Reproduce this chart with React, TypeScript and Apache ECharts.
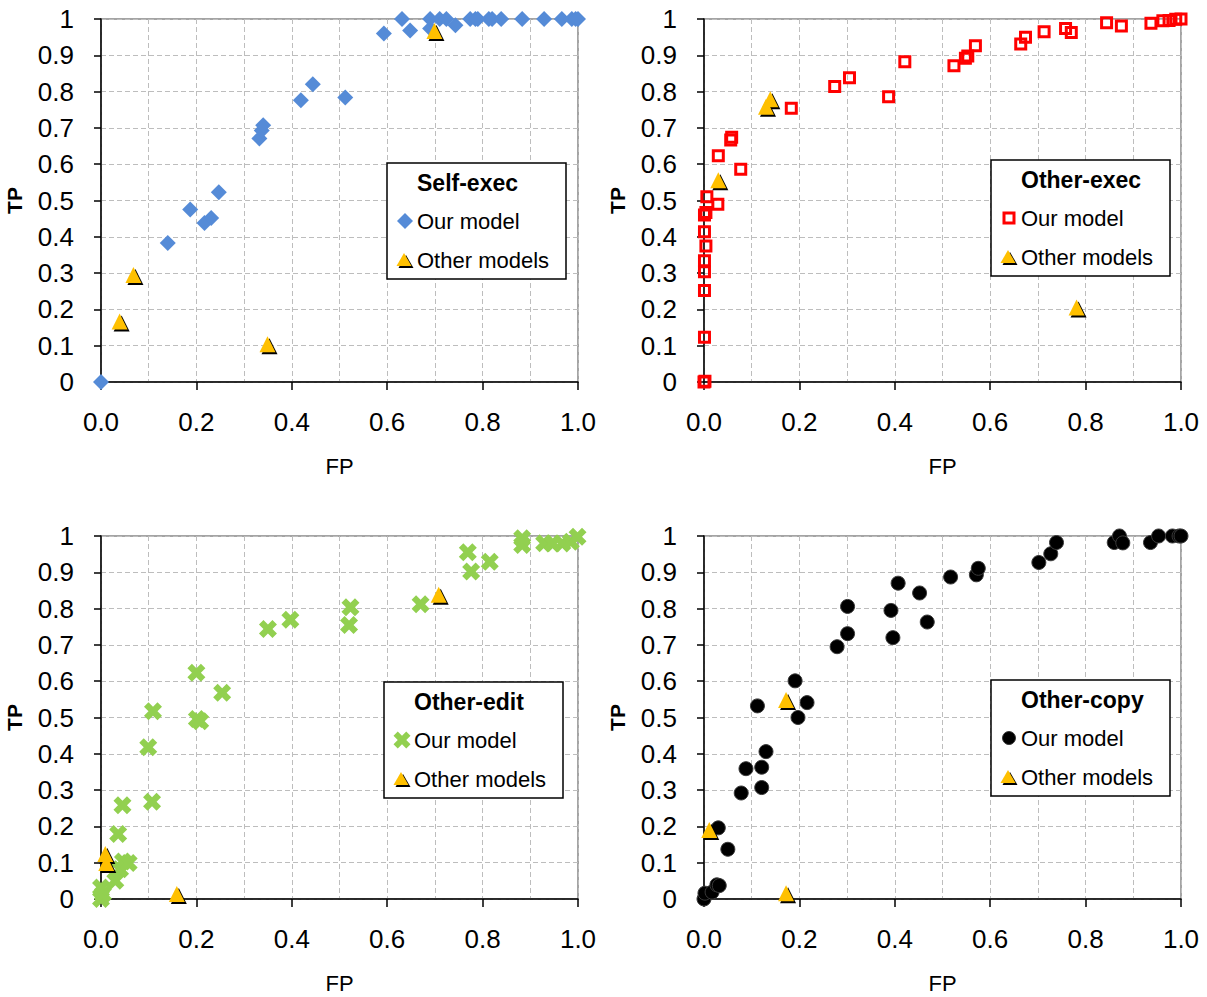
import React, { useEffect, useRef } from "react";
import * as echarts from "echarts";

const FONT = '"Liberation Sans", Arial, sans-serif';

// ---------- DATA ----------
const xTicks = [0, 0.2, 0.4, 0.6, 0.8, 1.0];
const yTicks = [0, 0.1, 0.2, 0.3, 0.4, 0.5, 0.6, 0.7, 0.8, 0.9, 1];

const panelTitles = ["Self-exec", "Other-exec", "Other-edit", "Other-copy"];
const seriesNames = ["Our model", "Other models"];

const selfExecOurs = [
  [0, 0], [0.14, 0.383], [0.187, 0.475], [0.217, 0.438], [0.231, 0.452], [0.247, 0.523],
  [0.332, 0.671], [0.337, 0.693], [0.34, 0.707], [0.419, 0.776], [0.444, 0.82], [0.512, 0.784],
  [0.593, 0.96], [0.631, 1.0], [0.648, 0.968], [0.69, 0.974], [0.69, 1.0], [0.71, 1.0],
  [0.724, 1.0], [0.743, 0.983], [0.774, 1.0], [0.785, 1.0], [0.79, 1.0], [0.813, 1.0],
  [0.82, 1.0], [0.839, 1.0], [0.883, 1.0], [0.929, 1.0], [0.966, 1.0], [0.987, 1.0],
  [0.995, 1.0], [1.0, 1.0],
];
const selfExecOthers = [[0.039, 0.167], [0.068, 0.295], [0.349, 0.104], [0.699, 0.967]];

const otherExecOurs = [
  [0, 0], [0.002, 0.002], [0.001, 0.123], [0.001, 0.252], [0.001, 0.304], [0.001, 0.334],
  [0.004, 0.375], [0.001, 0.414], [0.001, 0.46], [0.004, 0.467], [0.006, 0.51], [0.029, 0.49],
  [0.03, 0.623], [0.056, 0.667], [0.058, 0.674], [0.077, 0.586], [0.183, 0.754], [0.274, 0.814],
  [0.305, 0.838], [0.387, 0.786], [0.421, 0.882], [0.524, 0.871], [0.548, 0.892], [0.553, 0.898],
  [0.569, 0.926], [0.664, 0.931], [0.674, 0.95], [0.713, 0.965], [0.758, 0.974], [0.77, 0.963],
  [0.844, 0.99], [0.875, 0.981], [0.937, 0.988], [0.962, 0.995], [0.975, 0.996], [0.989, 0.999],
  [1.0, 1.0],
];
const otherExecOthers = [[0.03, 0.556], [0.13, 0.758], [0.139, 0.779], [0.781, 0.205]];

const otherEditOurs = [
  [0, 0], [0.004, 0.014], [0.0, 0.032], [0.03, 0.05], [0.04, 0.082], [0.046, 0.103],
  [0.058, 0.099], [0.036, 0.179], [0.045, 0.258], [0.107, 0.268], [0.099, 0.418], [0.109, 0.517],
  [0.2, 0.623], [0.201, 0.496], [0.208, 0.49], [0.254, 0.568], [0.35, 0.744], [0.397, 0.769],
  [0.52, 0.755], [0.523, 0.804], [0.67, 0.812], [0.769, 0.955], [0.776, 0.902], [0.815, 0.929],
  [0.883, 0.975], [0.883, 0.994], [0.929, 0.98], [0.946, 0.979], [0.967, 0.979], [0.985, 0.984],
  [0.999, 0.998],
];
const otherEditOthers = [[0.009, 0.124], [0.011, 0.099], [0.159, 0.014], [0.708, 0.838]];

const otherCopyOurs = [
  [0, 0], [0.002, 0.016], [0.017, 0.019], [0.027, 0.039], [0.032, 0.037], [0.05, 0.137],
  [0.03, 0.196], [0.078, 0.292], [0.088, 0.359], [0.121, 0.307], [0.121, 0.363], [0.13, 0.406],
  [0.112, 0.532], [0.191, 0.601], [0.216, 0.541], [0.197, 0.5], [0.279, 0.695], [0.301, 0.731],
  [0.301, 0.806], [0.392, 0.795], [0.396, 0.72], [0.407, 0.87], [0.452, 0.843], [0.468, 0.763],
  [0.517, 0.887], [0.571, 0.893], [0.575, 0.911], [0.702, 0.927], [0.727, 0.951], [0.739, 0.982],
  [0.86, 0.982], [0.871, 1.0], [0.878, 0.981], [0.936, 0.982], [0.953, 1.0], [0.982, 1.0],
  [0.996, 1.0], [1.0, 1.0],
];
const otherCopyOthers = [[0.011, 0.19], [0.172, 0.548], [0.172, 0.016]];

// ---------- STYLE / LAYOUT ----------
const X_PTS = [
  [0, 2.5], [2.5, 0], [5, 2.5], [7.5, 0], [10, 2.5], [7.5, 5],
  [10, 7.5], [7.5, 10], [5, 7.5], [2.5, 10], [0, 7.5], [2.5, 5],
];
const X_PATH = "path://M" + X_PTS.map((p) => p.join(",")).join("L") + "Z";
const GOLD = "#FFC000";
const BLUE = "#558BD7";
const GREEN = "#92D050";
const GRID_W = 477;
const GRID_H = 363;

type Kind = "diamond" | "square" | "cross" | "circle";

const panels: {
  ours: number[][];
  others: number[][];
  kind: Kind;
  left: number;
  top: number;
  lx: number;
  ly: number;
}[] = [
  { ours: selfExecOurs, others: selfExecOthers, kind: "diamond", left: 101, top: 19, lx: 387, ly: 163 },
  { ours: otherExecOurs, others: otherExecOthers, kind: "square", left: 704, top: 19, lx: 991, ly: 160 },
  { ours: otherEditOurs, others: otherEditOthers, kind: "cross", left: 101, top: 536, lx: 384, ly: 682 },
  { ours: otherCopyOurs, others: otherCopyOthers, kind: "circle", left: 704, top: 536, lx: 991, ly: 680 },
];

function oursStyle(kind: Kind): any {
  switch (kind) {
    case "diamond":
      return { symbol: "diamond", symbolSize: 16, itemStyle: { color: BLUE, opacity: 1 } };
    case "square":
      return {
        symbol: "rect",
        symbolSize: 10,
        itemStyle: { color: "rgba(255,255,255,0)", borderColor: "#FF0000", borderWidth: 3, opacity: 1 },
      };
    case "cross":
      return { symbol: X_PATH, symbolSize: 18, itemStyle: { color: GREEN, opacity: 1 } };
    case "circle":
      return {
        symbol: "circle",
        symbolSize: 14,
        itemStyle: { color: "#000", borderColor: "#3a3a3a", borderWidth: 1, opacity: 1 },
      };
  }
}

function legendMarker(kind: Kind, cx: number, cy: number): any[] {
  const z = 20;
  switch (kind) {
    case "diamond":
      return [{
        type: "polygon", z,
        shape: { points: [[cx, cy - 8], [cx + 8, cy], [cx, cy + 8], [cx - 8, cy]] },
        style: { fill: BLUE },
      }];
    case "square":
      return [{
        type: "rect", z,
        shape: { x: cx - 5, y: cy - 5, width: 10, height: 10 },
        style: { fill: "rgba(255,255,255,0)", stroke: "#FF0000", lineWidth: 3 },
      }];
    case "cross": {
      const s = 1.7;
      return [{
        type: "polygon", z,
        shape: { points: X_PTS.map(([a, b]) => [cx + (a - 5) * s, cy + (b - 5) * s]) },
        style: { fill: GREEN },
      }];
    }
    case "circle":
      return [{
        type: "circle", z,
        shape: { cx, cy, r: 6.5 },
        style: { fill: "#000", stroke: "#3a3a3a", lineWidth: 1 },
      }];
  }
}

function triangle(cx: number, cy: number, fill: string, z: number): any {
  return {
    type: "polygon", z,
    shape: { points: [[cx, cy - 7], [cx + 7.5, cy + 6], [cx - 7.5, cy + 6]] },
    style: { fill },
  };
}

function yLabel(v: number): string {
  const r = Math.round(v * 10) / 10;
  if (r === 0) return "0";
  if (r === 1) return "1";
  return r.toFixed(1);
}

function buildOption(): any {
  const grid: any[] = [];
  const xAxis: any[] = [];
  const yAxis: any[] = [];
  const series: any[] = [];
  const graphic: any[] = [];

  const dashed = { color: "#BDBDBD", width: 1, type: [5, 3] };

  panels.forEach((p, i) => {
    grid.push({
      left: p.left, top: p.top, width: GRID_W, height: GRID_H,
      show: true, borderColor: "#868686", borderWidth: 1.5, backgroundColor: "#fff",
    });
    xAxis.push({
      type: "value", gridIndex: i, min: xTicks[0], max: xTicks[xTicks.length - 1],
      interval: xTicks[1] - xTicks[0],
      name: "FP", nameLocation: "middle", nameGap: 73,
      nameTextStyle: { fontFamily: FONT, fontSize: 22, color: "#000" },
      axisLine: { show: true, onZero: false, lineStyle: { color: "#000", width: 1.5 } },
      axisTick: { show: true, length: 8, lineStyle: { color: "#000", width: 1.5 } },
      axisLabel: {
        fontFamily: FONT, fontSize: 26, color: "#000", margin: 27,
        formatter: (v: number) => (Math.round(v * 10) / 10).toFixed(1),
      },
      splitLine: { show: true, lineStyle: dashed },
      minorTick: { show: false, splitNumber: 2 },
      minorSplitLine: { show: true, lineStyle: dashed },
    });
    yAxis.push({
      type: "value", gridIndex: i, min: yTicks[0], max: yTicks[yTicks.length - 1],
      interval: yTicks[1] - yTicks[0],
      name: "TP", nameLocation: "middle", nameGap: 76, nameRotate: 90,
      nameTextStyle: { fontFamily: FONT, fontSize: 21, fontWeight: "bold", color: "#000" },
      axisLine: { show: true, onZero: false, lineStyle: { color: "#000", width: 1.5 } },
      axisTick: { show: true, length: 7, lineStyle: { color: "#000", width: 1.5 } },
      axisLabel: { fontFamily: FONT, fontSize: 26, color: "#000", margin: 27, formatter: yLabel },
      splitLine: { show: true, lineStyle: dashed },
    });

    series.push({
      type: "scatter", name: seriesNames[0], xAxisIndex: i, yAxisIndex: i,
      data: p.ours, clip: false, z: 3, ...oursStyle(p.kind),
    });
    series.push({
      type: "scatter", name: seriesNames[1] + " shadow", xAxisIndex: i, yAxisIndex: i,
      data: p.others, clip: false, z: 4, symbol: "triangle", symbolSize: 16,
      symbolOffset: [2, 2], itemStyle: { color: "#000", opacity: 1 },
    });
    series.push({
      type: "scatter", name: seriesNames[1], xAxisIndex: i, yAxisIndex: i,
      data: p.others, clip: false, z: 5, symbol: "triangle", symbolSize: 16,
      itemStyle: { color: GOLD, opacity: 1 },
    });

    const lx = p.lx, ly = p.ly;
    graphic.push({
      type: "rect", z: 10,
      shape: { x: lx, y: ly, width: 179, height: 116 },
      style: { fill: "#fff", stroke: "#000", lineWidth: 1.5 },
    });
    graphic.push({
      type: "text", z: 20, x: lx + 30, y: ly + 20,
      style: {
        text: panelTitles[i], fontFamily: FONT, fontSize: 23, fontWeight: "bold",
        fill: "#000", align: "left", verticalAlign: "middle",
      },
    });
    graphic.push(...legendMarker(p.kind, lx + 18, ly + 58));
    graphic.push({
      type: "text", z: 20, x: lx + 30, y: ly + 58,
      style: {
        text: seriesNames[0], fontFamily: FONT, fontSize: 22,
        fill: "#000", align: "left", verticalAlign: "middle",
      },
    });
    graphic.push(triangle(lx + 19, ly + 99, "#000", 20));
    graphic.push(triangle(lx + 17, ly + 97, GOLD, 21));
    graphic.push({
      type: "text", z: 20, x: lx + 30, y: ly + 97,
      style: {
        text: seriesNames[1], fontFamily: FONT, fontSize: 22,
        fill: "#000", align: "left", verticalAlign: "middle",
      },
    });
  });

  return { animation: false, backgroundColor: "#fff", grid, xAxis, yAxis, series, graphic };
}

export default function App() {
  const ref = useRef<HTMLDivElement>(null);
  useEffect(() => {
    if (!ref.current) return;
    const chart = echarts.init(ref.current, undefined, { renderer: "svg" });
    chart.setOption(buildOption());
    return () => chart.dispose();
  }, []);
  return (
    <div
      ref={ref}
      style={{ position: "fixed", left: 0, top: 0, width: 1207, height: 997, background: "#fff" }}
    />
  );
}
